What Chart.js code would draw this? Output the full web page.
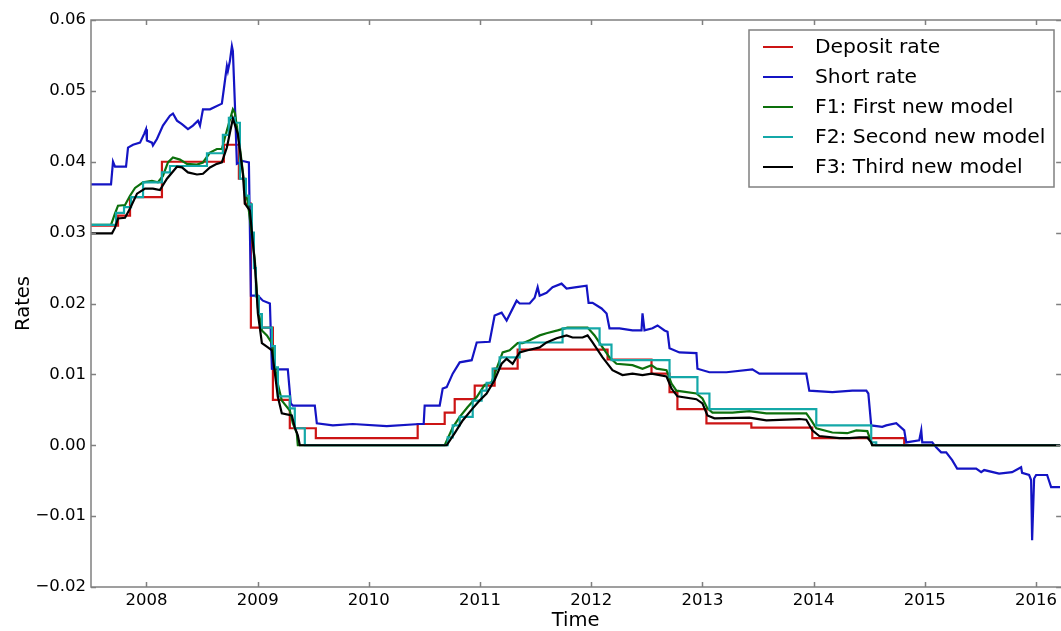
<!DOCTYPE html>
<html>
<head>
<meta charset="utf-8">
<title>Rates</title>
<script src="https://cdn.jsdelivr.net/npm/chart.js@4.4.1/dist/chart.umd.min.js"></script>
<style>
  html, body { margin: 0; padding: 0; background: #fff; }
</style>
</head>
<body>
<canvas id="chart" width="1061" height="631"></canvas>
<script>
// x values are decimal years, y values are rates
const yearTicks = [2008, 2009, 2010, 2011, 2012, 2013, 2014, 2015, 2016];
const rateTicks = [-0.02, -0.01, 0, 0.01, 0.02, 0.03, 0.04, 0.05, 0.06];
const xMin = 2007.501;
const xMax = 2016.217;

const depositX = [2007.501, 2007.744, 2007.852, 2008.139, 2008.696, 2008.831, 2008.885, 2008.939,
  2009.137, 2009.289, 2009.523, 2010.439, 2010.682, 2010.772, 2010.952, 2011.131, 2011.338,
  2012.147, 2012.542, 2012.704, 2012.775, 2013.036, 2013.440, 2013.988, 2014.815, 2016.217];
const depositY = [0.0310, 0.0324, 0.0350, 0.0400, 0.0424, 0.0376, 0.0341, 0.0166,
  0.0064, 0.0024, 0.0010, 0.0030, 0.0046, 0.0065, 0.0084, 0.0108, 0.0135,
  0.0121, 0.0101, 0.0075, 0.0051, 0.0031, 0.0025, 0.0010, 0.0000, 0.0000];

const shortX = [2007.501, 2007.681, 2007.699, 2007.717, 2007.816, 2007.834, 2007.879, 2007.942,
  2007.978, 2007.996, 2008.004, 2008.049, 2008.058, 2008.094, 2008.148, 2008.211, 2008.238,
  2008.274, 2008.319, 2008.373, 2008.418, 2008.463, 2008.481, 2008.508, 2008.571, 2008.678,
  2008.696, 2008.723, 2008.732, 2008.750, 2008.768, 2008.777, 2008.795, 2008.813, 2008.867,
  2008.921, 2008.939, 2009.002, 2009.047, 2009.110, 2009.128, 2009.182, 2009.271, 2009.298,
  2009.316, 2009.514, 2009.532, 2009.676, 2009.855, 2010.161, 2010.457, 2010.493, 2010.502,
  2010.637, 2010.664, 2010.700, 2010.754, 2010.817, 2010.925, 2010.970, 2011.086, 2011.131,
  2011.194, 2011.239, 2011.329, 2011.356, 2011.446, 2011.491, 2011.518, 2011.536, 2011.598,
  2011.652, 2011.733, 2011.778, 2011.868, 2011.958, 2011.976, 2012.012, 2012.093, 2012.138,
  2012.164, 2012.254, 2012.371, 2012.452, 2012.461, 2012.479, 2012.551, 2012.596, 2012.659,
  2012.686, 2012.704, 2012.793, 2012.946, 2012.955, 2013.063, 2013.216, 2013.449, 2013.512,
  2013.755, 2013.934, 2013.961, 2014.168, 2014.348, 2014.474, 2014.492, 2014.518, 2014.617,
  2014.653, 2014.743, 2014.815, 2014.833, 2014.950, 2014.968, 2014.977, 2015.067, 2015.102,
  2015.147, 2015.192, 2015.246, 2015.291, 2015.462, 2015.507, 2015.534, 2015.668, 2015.785,
  2015.866, 2015.875, 2015.938, 2015.956, 2015.965, 2015.983, 2016.001, 2016.100, 2016.136,
  2016.217];
const shortY = [0.0368, 0.0368, 0.0400, 0.0393, 0.0393, 0.0420, 0.0424, 0.0427,
  0.0439, 0.0446, 0.0430, 0.0427, 0.0423, 0.0432, 0.0451, 0.0465, 0.0468,
  0.0458, 0.0453, 0.0446, 0.0451, 0.0458, 0.0451, 0.0474, 0.0474, 0.0482,
  0.0503, 0.0535, 0.0528, 0.0542, 0.0563, 0.0556, 0.0482, 0.0397, 0.0401,
  0.0399, 0.0211, 0.0211, 0.0204, 0.0200, 0.0108, 0.0107, 0.0107, 0.0059,
  0.0056, 0.0056, 0.0031, 0.0028, 0.0030, 0.0027, 0.0030, 0.0030, 0.0056,
  0.0056, 0.0080, 0.0082, 0.0101, 0.0117, 0.0120, 0.0145, 0.0146, 0.0183,
  0.0187, 0.0176, 0.0204, 0.0200, 0.0200, 0.0208, 0.0223, 0.0211, 0.0215,
  0.0223, 0.0228, 0.0221, 0.0223, 0.0225, 0.0201, 0.0201, 0.0193, 0.0186,
  0.0165, 0.0165, 0.0162, 0.0162, 0.0186, 0.0162, 0.0165, 0.0169, 0.0162,
  0.0160, 0.0137, 0.0131, 0.0130, 0.0108, 0.0103, 0.0103, 0.0107, 0.0101,
  0.0101, 0.0101, 0.0077, 0.0075, 0.0077, 0.0077, 0.0073, 0.0028, 0.0026,
  0.0028, 0.0031, 0.0021, 0.0004, 0.0007, 0.0021, 0.0004, 0.0004, -0.0003,
  -0.0010, -0.0010, -0.0021, -0.0033, -0.0033, -0.0038, -0.0035, -0.0040, -0.0038,
  -0.0031, -0.0039, -0.0042, -0.0049, -0.0134, -0.0047, -0.0042, -0.0042, -0.0059,
  -0.0059];

const f1X = [2007.501, 2007.681, 2007.717, 2007.744, 2007.807, 2007.852, 2007.897, 2007.969,
  2008.049, 2008.103, 2008.148, 2008.193, 2008.238, 2008.301, 2008.364, 2008.454, 2008.508,
  2008.571, 2008.633, 2008.678, 2008.723, 2008.777, 2008.795, 2008.840, 2008.885, 2008.912,
  2008.957, 2008.975, 2009.002, 2009.038, 2009.083, 2009.128, 2009.173, 2009.217, 2009.289,
  2009.316, 2009.352, 2009.361, 2010.682, 2010.754, 2010.817, 2010.889, 2010.970, 2011.041,
  2011.104, 2011.149, 2011.203, 2011.266, 2011.338, 2011.383, 2011.446, 2011.536, 2011.598,
  2011.697, 2011.787, 2011.922, 2011.967, 2012.030, 2012.102, 2012.164, 2012.227, 2012.371,
  2012.461, 2012.542, 2012.587, 2012.677, 2012.722, 2012.766, 2012.946, 2013.000, 2013.045,
  2013.090, 2013.270, 2013.422, 2013.575, 2013.934, 2013.979, 2014.024, 2014.168, 2014.303,
  2014.384, 2014.483, 2014.518, 2014.527, 2016.217];
const f1Y = [0.0311, 0.0311, 0.0327, 0.0338, 0.0339, 0.0352, 0.0363, 0.0371,
  0.0373, 0.0371, 0.0380, 0.0399, 0.0406, 0.0403, 0.0397, 0.0396, 0.0399,
  0.0413, 0.0418, 0.0418, 0.0444, 0.0474, 0.0469, 0.0420, 0.0362, 0.0342,
  0.0285, 0.0260, 0.0194, 0.0162, 0.0155, 0.0144, 0.0092, 0.0063, 0.0049,
  0.0031, 0.0017, 0.0000, 0.0000, 0.0025, 0.0040, 0.0054, 0.0068, 0.0085,
  0.0089, 0.0108, 0.0131, 0.0134, 0.0144, 0.0144, 0.0148, 0.0155, 0.0158,
  0.0162, 0.0166, 0.0166, 0.0166, 0.0155, 0.0138, 0.0124, 0.0115, 0.0113,
  0.0108, 0.0113, 0.0108, 0.0106, 0.0087, 0.0077, 0.0073, 0.0066, 0.0052,
  0.0046, 0.0046, 0.0048, 0.0045, 0.0045, 0.0035, 0.0024, 0.0018, 0.0017,
  0.0021, 0.0020, 0.0004, 0.0000, 0.0000];

const f2X = [2007.501, 2007.726, 2007.798, 2007.861, 2007.969, 2008.139, 2008.211, 2008.544,
  2008.687, 2008.741, 2008.795, 2008.840, 2008.894, 2008.921, 2008.948, 2008.966, 2008.984,
  2009.011, 2009.038, 2009.128, 2009.155, 2009.182, 2009.289, 2009.334, 2009.424, 2010.709,
  2010.754, 2010.817, 2010.934, 2011.014, 2011.059, 2011.113, 2011.176, 2011.356, 2011.742,
  2012.075, 2012.182, 2012.704, 2012.955, 2013.063, 2014.024, 2014.518, 2014.563, 2016.217];
const f2Y = [0.0311, 0.0328, 0.0336, 0.0350, 0.0371, 0.0385, 0.0394, 0.0412,
  0.0438, 0.0462, 0.0455, 0.0376, 0.0352, 0.0340, 0.0300, 0.0250, 0.0210,
  0.0185, 0.0166, 0.0140, 0.0110, 0.0069, 0.0052, 0.0024, 0.0000, 0.0011,
  0.0028, 0.0040, 0.0063, 0.0077, 0.0088, 0.0108, 0.0124, 0.0145, 0.0165,
  0.0142, 0.0120, 0.0096, 0.0073, 0.0051, 0.0028, 0.0004, 0.0000, 0.0000];

const f3X = [2007.501, 2007.690, 2007.717, 2007.744, 2007.807, 2007.852, 2007.915, 2007.987,
  2008.058, 2008.121, 2008.184, 2008.274, 2008.319, 2008.373, 2008.454, 2008.508, 2008.571,
  2008.633, 2008.678, 2008.723, 2008.777, 2008.822, 2008.867, 2008.885, 2008.930, 2008.975,
  2009.002, 2009.038, 2009.092, 2009.128, 2009.155, 2009.182, 2009.217, 2009.307, 2009.334,
  2009.361, 2009.379, 2010.700, 2010.772, 2010.844, 2010.934, 2010.996, 2011.059, 2011.131,
  2011.194, 2011.239, 2011.293, 2011.356, 2011.428, 2011.536, 2011.598, 2011.688, 2011.778,
  2011.832, 2011.922, 2011.967, 2012.012, 2012.102, 2012.191, 2012.281, 2012.371, 2012.461,
  2012.542, 2012.677, 2012.722, 2012.775, 2012.946, 2013.000, 2013.045, 2013.108, 2013.422,
  2013.575, 2013.872, 2013.934, 2013.988, 2014.051, 2014.231, 2014.321, 2014.411, 2014.483,
  2014.518, 2014.527, 2016.217];
const f3Y = [0.0299, 0.0299, 0.0307, 0.0320, 0.0321, 0.0334, 0.0355, 0.0362,
  0.0362, 0.0360, 0.0376, 0.0393, 0.0392, 0.0385, 0.0382, 0.0383, 0.0392,
  0.0397, 0.0399, 0.0420, 0.0461, 0.0439, 0.0383, 0.0341, 0.0331, 0.0256,
  0.0186, 0.0144, 0.0138, 0.0134, 0.0101, 0.0068, 0.0045, 0.0042, 0.0025,
  0.0014, 0.0000, 0.0000, 0.0017, 0.0035, 0.0052, 0.0063, 0.0073, 0.0092,
  0.0115, 0.0122, 0.0115, 0.0131, 0.0134, 0.0138, 0.0145, 0.0151, 0.0155,
  0.0152, 0.0152, 0.0155, 0.0145, 0.0124, 0.0106, 0.0099, 0.0101, 0.0099,
  0.0101, 0.0097, 0.0080, 0.0069, 0.0065, 0.0059, 0.0042, 0.0038, 0.0039,
  0.0035, 0.0037, 0.0036, 0.0021, 0.0013, 0.0010, 0.0010, 0.0011, 0.0011,
  0.0004, 0.0000, 0.0000];

const FONT = '"DejaVu Sans", "Liberation Sans", sans-serif';

function pts(xs, ys) {
  return xs.map((x, i) => ({ x: x, y: ys[i] }));
}

// matplotlib style box with inward ticks on all four sides
const framePlugin = {
  id: 'frame',
  afterDatasetsDraw(chart) {
    const { ctx, chartArea: a, scales } = chart;
    const r = a.right + 1;
    ctx.save();
    ctx.strokeStyle = '#808080';
    ctx.lineWidth = 1.5;
    ctx.beginPath();
    ctx.moveTo(r, a.top);
    ctx.lineTo(a.left, a.top);
    ctx.lineTo(a.left, a.bottom);
    ctx.lineTo(r, a.bottom);
    yearTicks.forEach((v) => {
      const px = Math.round(scales.x.getPixelForValue(v)) + 0.5;
      ctx.moveTo(px, a.top);
      ctx.lineTo(px, a.top + 5);
      ctx.moveTo(px, a.bottom);
      ctx.lineTo(px, a.bottom - 5);
    });
    rateTicks.forEach((v) => {
      const py = Math.round(scales.y.getPixelForValue(v)) + 0.5;
      ctx.moveTo(a.left, py);
      ctx.lineTo(a.left + 5, py);
      ctx.moveTo(r, py);
      ctx.lineTo(r - 5, py);
    });
    ctx.stroke();
    ctx.restore();
  },
};

const legendPlugin = {
  id: 'legendBox',
  afterDraw(chart) {
    const { ctx } = chart;
    const left = 749;
    const top = 30;
    ctx.save();
    ctx.fillStyle = '#ffffff';
    ctx.fillRect(left, top, 305, 157);
    ctx.strokeStyle = '#808080';
    ctx.lineWidth = 1.5;
    ctx.strokeRect(left, top, 305, 157);
    ctx.font = '20.3px ' + FONT;
    ctx.textBaseline = 'middle';
    ctx.textAlign = 'left';
    chart.data.datasets.forEach((ds, i) => {
      const yy = top + 17 + i * 30;
      ctx.strokeStyle = ds.borderColor;
      ctx.lineWidth = 2;
      ctx.beginPath();
      ctx.moveTo(left + 14, yy);
      ctx.lineTo(left + 44, yy);
      ctx.stroke();
      ctx.fillStyle = '#000';
      ctx.fillText(ds.label, left + 66, yy + 1);
    });
    ctx.restore();
  },
};

const data = {
  datasets: [
    { label: 'Deposit rate', data: pts(depositX, depositY), borderColor: '#cc1414', stepped: 'before', order: 5 },
    { label: 'Short rate', data: pts(shortX, shortY), borderColor: '#1414c4', order: 4 },
    { label: 'F1: First new model', data: pts(f1X, f1Y), borderColor: '#0c700c', order: 3 },
    { label: 'F2: Second new model', data: pts(f2X, f2Y), borderColor: '#14a8a8', stepped: 'before', order: 2 },
    { label: 'F3: Third new model', data: pts(f3X, f3Y), borderColor: '#000000', order: 1 },
  ],
};

const options = {
  responsive: false,
  animation: false,
  layout: { padding: { top: 20, right: 0, bottom: 0, left: 0 } },
  elements: {
    point: { radius: 0 },
    line: { borderWidth: 2.2, tension: 0, fill: false },
  },
  plugins: {
    legend: { display: false },
    tooltip: { enabled: false },
  },
  scales: {
    x: {
      type: 'linear',
      min: xMin,
      max: xMax,
      grid: { display: false, drawTicks: false },
      border: { display: false },
      afterBuildTicks: (axis) => {
        axis.ticks = yearTicks.map((v) => ({ value: v }));
      },
      afterFit: (axis) => {
        axis.height = 44;
      },
      ticks: {
        color: '#000',
        font: { family: FONT, size: 16.5 },
        padding: 4,
        maxRotation: 0,
        autoSkip: false,
        callback: (v) => String(v),
      },
      title: {
        display: true,
        text: 'Time',
        color: '#000',
        font: { family: FONT, size: 19.5 },
        padding: { top: 0, bottom: -2 },
      },
    },
    y: {
      type: 'linear',
      min: -0.02,
      max: 0.06,
      grid: { display: false, drawTicks: false },
      border: { display: false },
      afterBuildTicks: (axis) => {
        axis.ticks = rateTicks.map((v) => ({ value: v }));
      },
      afterFit: (axis) => {
        axis.width = 91;
      },
      ticks: {
        color: '#000',
        font: { family: FONT, size: 16.5 },
        padding: 5,
        callback: (v) => {
          if (Math.abs(v) < 1e-9) return '0.00';
          return v < 0 ? '\u2212' + Math.abs(v).toFixed(2) : v.toFixed(2);
        },
      },
      title: {
        display: true,
        text: 'Rates',
        color: '#000',
        font: { family: FONT, size: 19.5 },
        padding: { top: 12, bottom: 0 },
      },
    },
  },
};

new Chart(document.getElementById('chart'), {
  type: 'line',
  data,
  options,
  plugins: [framePlugin, legendPlugin],
});
</script>
</body>
</html>
